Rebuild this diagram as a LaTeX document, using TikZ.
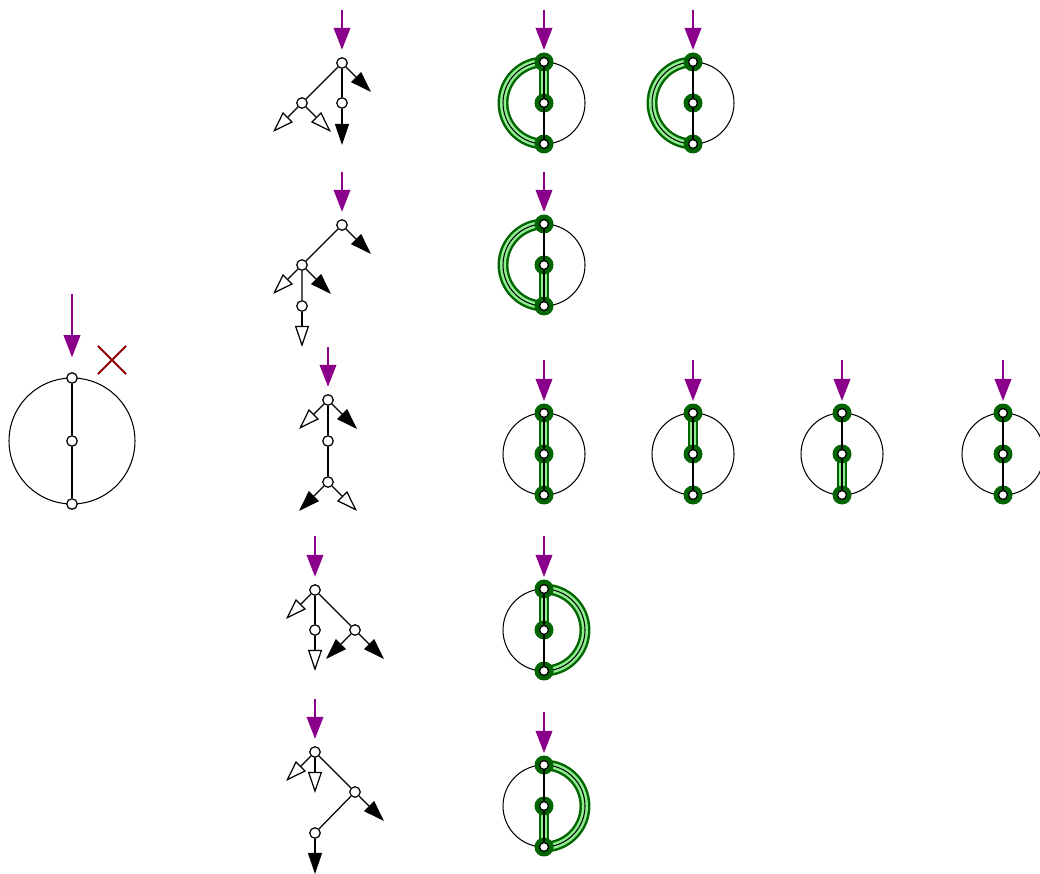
\documentclass[tikz,border=0pt]{standalone}
\usepackage{amsmath}
\usepackage{tikz}
\usetikzlibrary{positioning, shapes.misc, arrows.meta, backgrounds}

\definecolor{feedpurple}{RGB}{139,0,139}
\definecolor{ringgreen}{RGB}{0,100,0}
\definecolor{litegreen}{RGB}{144,238,144}
\definecolor{crossred}{RGB}{139,0,0}

\begin{document}
\begin{tikzpicture}[
    x=0.02cm, y=-0.02cm,
    line width=0.7pt,
    % Node Styles
    vtx/.style={circle, draw=black, fill=white, line width=0.7pt, inner sep=0pt, minimum size=2.1mm},
    gvtx/.style={circle, fill=ringgreen, inner sep=0pt, minimum size=3.8mm, outer sep=-0.95mm,
        path picture={\draw[black, fill=white, line width=0.7pt] (path picture bounding box.center) circle (0.88mm);}},
    cyc/.style={circle, draw=black, line width=0.6pt, inner sep=0pt, minimum size=1.64cm},
    % Edge Styles
    blk/.style={-{Triangle[length=12pt, width=8pt]}},
    opn/.style={-{Triangle[open, length=12pt, width=8pt]}},
    inarrow/.style={draw=feedpurple, line width=0.9pt, -{Triangle[length=12.5pt, width=9.5pt]}, shorten >=4.2pt},
    hot/.style={draw=ringgreen, line width=1.4pt, double=litegreen, double distance=3.4pt}
]
\useasboundingbox (0,0) rectangle (1040,874);

% --- 1. Left Graph ---
\node[cyc, minimum size=2.52cm] (c0) at (72,441) {};
\node[vtx] (c0t) at (72,378) {};
\node[vtx] (c0m) at (72,441) {};
\node[vtx] (c0b) at (72,504) {};
\coordinate (c0in) at (72,294);
\draw (c0t) -- (c0m) -- (c0b);
\draw[inarrow, shorten >=8.5pt] (c0in) -- (c0t);
\node[cross out, draw=crossred, line width=1.2pt, minimum size=0.52cm, inner sep=0pt] (nope) at (112,360) {};

% --- 2. Trees ---
% Tree 1
\node[vtx] (t1r) at (342,63) {};
\node[vtx] (t1a) at (302,103) {};
\node[vtx] (t1b) at (342,103) {};
\coordinate (t1in) at (342,10);
\coordinate (t1o1) at (371,92);
\coordinate (t1o2) at (273,132);
\coordinate (t1o3) at (331,132);
\coordinate (t1o4) at (342,145);
\draw[inarrow] (t1in) -- (t1r);
\draw (t1r) -- (t1a);
\draw (t1r) -- (t1b);
\draw[blk] (t1r) -- (t1o1);
\draw[opn] (t1a) -- (t1o2);
\draw[opn] (t1a) -- (t1o3);
\draw[blk] (t1b) -- (t1o4);

% Tree 2
\node[vtx] (t2r) at (342,225) {};
\node[vtx] (t2a) at (302,265) {};
\node[vtx] (t2b) at (302,306) {};
\coordinate (t2in) at (342,172);
\coordinate (t2o1) at (371,254);
\coordinate (t2o2) at (273,294);
\coordinate (t2o3) at (331,294);
\coordinate (t2o4) at (302,347);
\draw[inarrow] (t2in) -- (t2r);
\draw (t2r) -- (t2a) -- (t2b);
\draw[blk] (t2r) -- (t2o1);
\draw[opn] (t2a) -- (t2o2);
\draw[blk] (t2a) -- (t2o3);
\draw[opn] (t2b) -- (t2o4);

% Tree 3
\node[vtx] (t3r) at (328,400) {};
\node[vtx] (t3a) at (328,441) {};
\node[vtx] (t3b) at (328,482) {};
\coordinate (t3in) at (328,347);
\coordinate (t3o1) at (299,429);
\coordinate (t3o2) at (357,429);
\coordinate (t3o3) at (299,511);
\coordinate (t3o4) at (357,511);
\draw[inarrow] (t3in) -- (t3r);
\draw (t3r) -- (t3a) -- (t3b);
\draw[opn] (t3r) -- (t3o1);
\draw[blk] (t3r) -- (t3o2);
\draw[blk] (t3b) -- (t3o3);
\draw[opn] (t3b) -- (t3o4);

% Tree 4
\node[vtx] (t4r) at (315,590) {};
\node[vtx] (t4a) at (315,630) {};
\node[vtx] (t4b) at (355,630) {};
\coordinate (t4in) at (315,536);
\coordinate (t4o1) at (286,619);
\coordinate (t4o2) at (315,671);
\coordinate (t4o3) at (326,659);
\coordinate (t4o4) at (384,659);
\draw[inarrow] (t4in) -- (t4r);
\draw (t4r) -- (t4a);
\draw (t4r) -- (t4b);
\draw[opn] (t4r) -- (t4o1);
\draw[opn] (t4a) -- (t4o2);
\draw[blk] (t4b) -- (t4o3);
\draw[blk] (t4b) -- (t4o4);

% Tree 5
\node[vtx] (t5r) at (315,752) {};
\node[vtx] (t5a) at (355,792) {};
\node[vtx] (t5b) at (315,833) {};
\coordinate (t5in) at (315,699);
\coordinate (t5o1) at (286,781);
\coordinate (t5o2) at (315,793);
\coordinate (t5o3) at (384,821);
\coordinate (t5o4) at (315,874);
\draw[inarrow] (t5in) -- (t5r);
\draw (t5r) -- (t5a) -- (t5b);
\draw[opn] (t5r) -- (t5o1);
\draw[opn] (t5r) -- (t5o2);
\draw[blk] (t5a) -- (t5o3);
\draw[blk] (t5b) -- (t5o4);

% --- 3. Highlighted Graphs ---
% Row 1
\node[cyc] (g1a) at (544,103) {};
\node[gvtx] (g1at) at (544,62) {};
\node[gvtx] (g1am) at (544,103) {};
\node[gvtx] (g1ab) at (544,144) {};
\coordinate (g1ain) at (544,10);
\draw[inarrow] (g1ain) -- (g1at);
\draw (g1at) -- (g1am) -- (g1ab);

\node[cyc] (g1b) at (693,103) {};
\node[gvtx] (g1bt) at (693,62) {};
\node[gvtx] (g1bm) at (693,103) {};
\node[gvtx] (g1bb) at (693,144) {};
\coordinate (g1bin) at (693,10);
\draw[inarrow] (g1bin) -- (g1bt);
\draw (g1bt) -- (g1bm) -- (g1bb);

% Row 2
\node[cyc] (g2a) at (544,265) {};
\node[gvtx] (g2at) at (544,224) {};
\node[gvtx] (g2am) at (544,265) {};
\node[gvtx] (g2ab) at (544,306) {};
\coordinate (g2ain) at (544,172);
\draw[inarrow] (g2ain) -- (g2at);
\draw (g2at) -- (g2am) -- (g2ab);

% Row 3
\node[cyc] (g3a) at (544,454) {};
\node[gvtx] (g3at) at (544,413) {};
\node[gvtx] (g3am) at (544,454) {};
\node[gvtx] (g3ab) at (544,495) {};
\coordinate (g3ain) at (544,360);
\draw[inarrow] (g3ain) -- (g3at);
\draw (g3at) -- (g3am) -- (g3ab);

\node[cyc] (g3b) at (693,454) {};
\node[gvtx] (g3bt) at (693,413) {};
\node[gvtx] (g3bm) at (693,454) {};
\node[gvtx] (g3bb) at (693,495) {};
\coordinate (g3bin) at (693,360);
\draw[inarrow] (g3bin) -- (g3bt);
\draw (g3bt) -- (g3bm) -- (g3bb);

\node[cyc] (g3c) at (842,454) {};
\node[gvtx] (g3ct) at (842,413) {};
\node[gvtx] (g3cm) at (842,454) {};
\node[gvtx] (g3cb) at (842,495) {};
\coordinate (g3cin) at (842,360);
\draw[inarrow] (g3cin) -- (g3ct);
\draw (g3ct) -- (g3cm) -- (g3cb);

\node[cyc] (g3d) at (1003,454) {};
\node[gvtx] (g3dt) at (1003,413) {};
\node[gvtx] (g3dm) at (1003,454) {};
\node[gvtx] (g3db) at (1003,495) {};
\coordinate (g3din) at (1003,360);
\draw[inarrow] (g3din) -- (g3dt);
\draw (g3dt) -- (g3dm) -- (g3db);

% Row 4
\node[cyc] (g4a) at (544,630) {};
\node[gvtx] (g4at) at (544,589) {};
\node[gvtx] (g4am) at (544,630) {};
\node[gvtx] (g4ab) at (544,671) {};
\coordinate (g4ain) at (544,536);
\draw[inarrow] (g4ain) -- (g4at);
\draw (g4at) -- (g4am) -- (g4ab);

% Row 5
\node[cyc] (g5a) at (544,806) {};
\node[gvtx] (g5at) at (544,765) {};
\node[gvtx] (g5am) at (544,806) {};
\node[gvtx] (g5ab) at (544,847) {};
\coordinate (g5ain) at (544,712);
\draw[inarrow] (g5ain) -- (g5at);
\draw (g5at) -- (g5am) -- (g5ab);

% --- 4. Green Highlights (behind) ---
\begin{scope}[on background layer]
\draw[hot] (g1at.center) arc[start angle=90, end angle=270, radius=0.82cm];
\draw[hot] (g1at) -- (g1am);
\draw[hot] (g1bt.center) arc[start angle=90, end angle=270, radius=0.82cm];
\draw[hot] (g2at.center) arc[start angle=90, end angle=270, radius=0.82cm];
\draw[hot] (g2am) -- (g2ab);
\draw[hot] (g3at) -- (g3am);
\draw[hot] (g3am) -- (g3ab);
\draw[hot] (g3bt) -- (g3bm);
\draw[hot] (g3cm) -- (g3cb);
\draw[hot] (g4at.center) arc[start angle=90, end angle=-90, radius=0.82cm];
\draw[hot] (g4at) -- (g4am);
\draw[hot] (g5at.center) arc[start angle=90, end angle=-90, radius=0.82cm];
\draw[hot] (g5am) -- (g5ab);
\end{scope}

\end{tikzpicture}
\end{document}
